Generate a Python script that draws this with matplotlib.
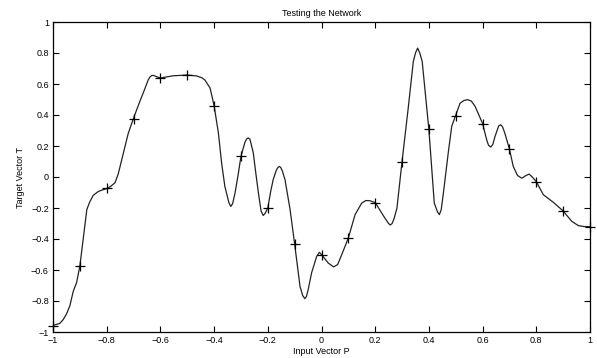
import matplotlib
matplotlib.use("Agg")
import matplotlib.pyplot as plt

# Training points (markers)
P = [-1.0, -0.9, -0.8, -0.7, -0.6, -0.5, -0.4, -0.3, -0.2, -0.1, 0.0,
     0.1, 0.2, 0.3, 0.4, 0.5, 0.6, 0.7, 0.8, 0.9, 1.0]
T = [-0.9602, -0.5770, -0.0729, 0.3771, 0.6405, 0.6600, 0.4609, 0.1336,
     -0.2013, -0.4344, -0.5000, -0.3930, -0.1647, 0.0988, 0.3072, 0.3960,
     0.3449, 0.1816, -0.0312, -0.2189, -0.3201]

# Network output curve
curve_x = [-1.0, -0.975, -0.962, -0.95, -0.937, -0.925, -0.912, -0.9, -0.887,
           -0.874, -0.863, -0.85, -0.831, -0.815, -0.8, -0.785, -0.769, -0.757,
           -0.738, -0.72, -0.7, -0.676, -0.664, -0.645, -0.638, -0.632, -0.625,
           -0.614, -0.6, -0.58, -0.552, -0.52, -0.5, -0.465, -0.445, -0.434,
           -0.415, -0.4, -0.384, -0.372, -0.36, -0.353, -0.345, -0.338, -0.331,
           -0.322, -0.31, -0.3, -0.285, -0.279, -0.273, -0.267, -0.263, -0.254,
           -0.245, -0.235, -0.225, -0.217, -0.21, -0.2, -0.19, -0.18, -0.168,
           -0.162, -0.157, -0.152, -0.146, -0.136, -0.117, -0.1, -0.08, -0.07,
           -0.062, -0.056, -0.05, -0.037, -0.018, -0.008, 0.0, 0.025, 0.045,
           0.06, 0.075, 0.1, 0.125, 0.15, 0.165, 0.18, 0.2, 0.236, 0.25, 0.256,
           0.263, 0.27, 0.281, 0.3, 0.323, 0.342, 0.35, 0.358, 0.366, 0.375,
           0.4, 0.42, 0.432, 0.439, 0.446, 0.454, 0.472, 0.485, 0.5, 0.516,
           0.53, 0.544, 0.558, 0.572, 0.6, 0.615, 0.622, 0.63, 0.638, 0.646,
           0.66, 0.667, 0.674, 0.683, 0.7, 0.714, 0.73, 0.746, 0.76, 0.773,
           0.785, 0.8, 0.826, 0.864, 0.9, 0.932, 0.957, 0.98, 1.0]
curve_y = [-0.957, -0.945, -0.92, -0.885, -0.83, -0.74, -0.68, -0.575, -0.39,
           -0.21, -0.16, -0.118, -0.093, -0.083, -0.075, -0.06, -0.037, 0.02,
           0.155, 0.28, 0.38, 0.49, 0.542, 0.628, 0.647, 0.655, 0.655,
           0.647, 0.639, 0.645, 0.653, 0.656, 0.658, 0.652, 0.64, 0.625,
           0.574, 0.46, 0.284, 0.09, -0.06, -0.11, -0.165, -0.19, -0.172,
           -0.103, 0.02, 0.133, 0.225, 0.245, 0.252, 0.245, 0.22, 0.155,
           0.03, -0.103, -0.22, -0.248, -0.235, -0.2, -0.1, -0.017, 0.045,
           0.062, 0.068, 0.062, 0.04, -0.017, -0.21, -0.433, -0.706, -0.765,
           -0.785, -0.77, -0.73, -0.619, -0.512, -0.486, -0.5, -0.555, -0.58,
           -0.565, -0.503, -0.393, -0.243, -0.168, -0.152, -0.153, -0.165, -0.265, -0.3, -0.31,
           -0.3, -0.27, -0.2, 0.1, 0.445, 0.746, 0.8, 0.832, 0.8, 0.746,
           0.305, -0.168, -0.225, -0.243, -0.21, -0.103, 0.155, 0.327, 0.40, 0.476,
           0.493, 0.499, 0.49, 0.456, 0.345, 0.241, 0.205, 0.193, 0.21, 0.26,
           0.33, 0.337, 0.325, 0.282, 0.18, 0.069, 0.01, -0.008, 0.008, 0.019,
           0.0, -0.03, -0.114, -0.164, -0.219, -0.286, -0.314, -0.32, -0.32]

xticks = [-1, -0.8, -0.6, -0.4, -0.2, 0, 0.2, 0.4, 0.6, 0.8, 1]
yticks = [-1, -0.8, -0.6, -0.4, -0.2, 0, 0.2, 0.4, 0.6, 0.8, 1]

plt.rcParams['font.family'] = ['Liberation Sans', 'DejaVu Sans']
plt.rcParams['axes.unicode_minus'] = False

fig = plt.figure(figsize=(5.97, 3.58), dpi=100)
ax = fig.add_axes([53/597, 26/358, 537/597, 310/358])

ax.plot(curve_x, curve_y, color='#222222', linewidth=0.9)
ax.plot(P, T, linestyle='none', marker='+', markersize=7, color='black',
        markeredgewidth=0.9, clip_on=False)

ax.set_xlim(-1, 1)
ax.set_ylim(-1, 1)
ax.set_xticks(xticks)
ax.set_yticks(yticks)
ax.set_xticklabels([f"{v:g}".replace('-', '\u2212') for v in xticks])
ax.set_yticklabels([f"{v:g}".replace('-', '\u2212') for v in yticks])
ax.tick_params(direction='in', top=True, right=True, length=4, width=0.8,
               labelsize=6.5, pad=3)
ax.tick_params(axis='x', labeltop=False)
for s in ax.spines.values():
    s.set_linewidth(0.9)

ax.set_title("Testing the Network", fontsize=6.5, pad=4)
ax.set_xlabel("Input Vector P", fontsize=6.5, labelpad=1)
ax.set_ylabel("Target Vector T", fontsize=6.5, labelpad=4)

fig.savefig("out.png", dpi=100)
